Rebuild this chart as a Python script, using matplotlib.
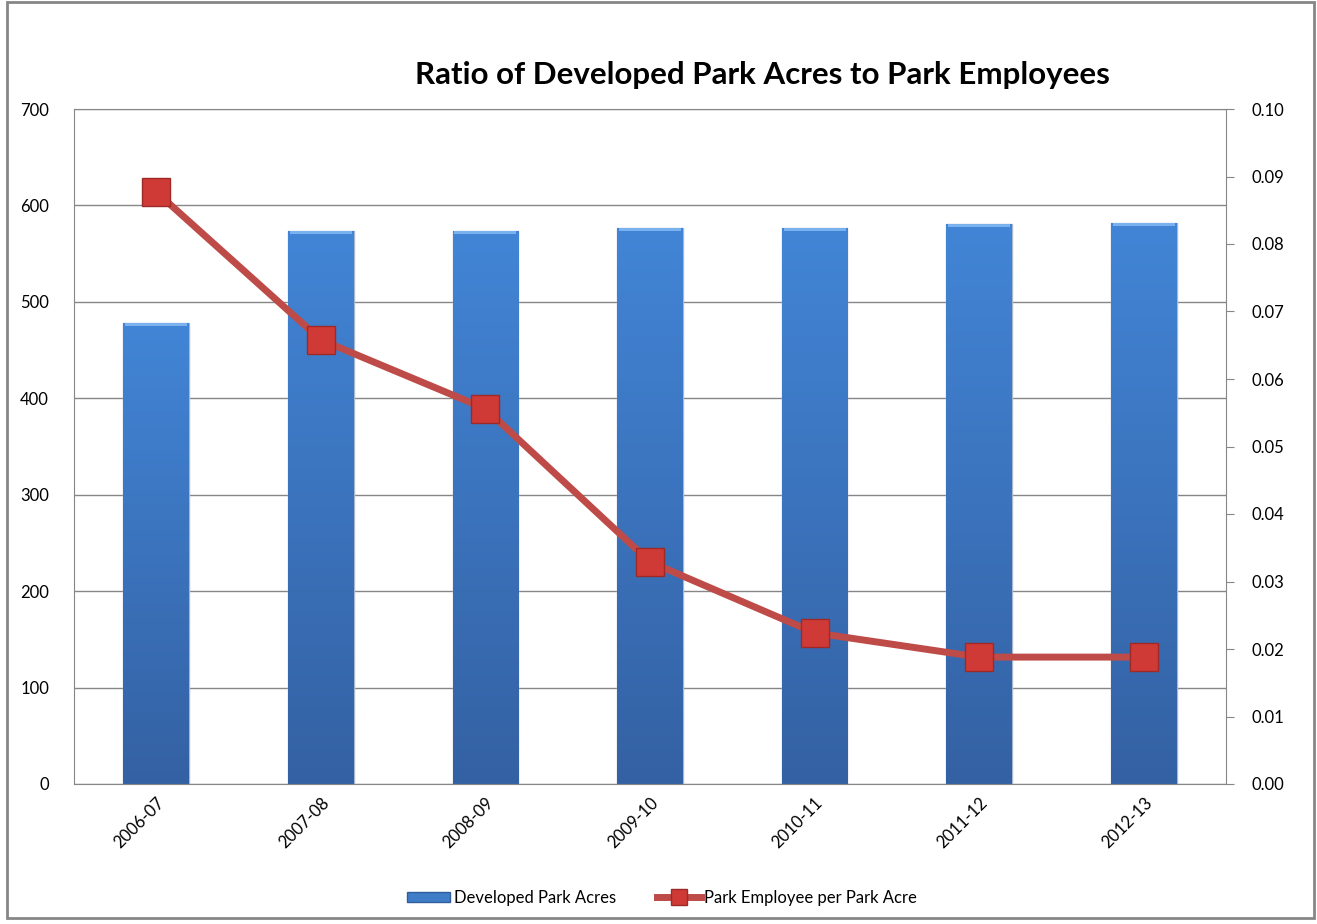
import matplotlib
matplotlib.use("Agg")
import matplotlib.pyplot as plt
import numpy as np
from matplotlib.patches import Rectangle
from matplotlib.lines import Line2D
from matplotlib.colors import LinearSegmentedColormap

categories = ["2006-07", "2007-08", "2008-09", "2009-10", "2010-11", "2011-12", "2012-13"]
acres = [478, 574, 574, 577, 577, 581, 582]
ratio = [0.0877, 0.0658, 0.0556, 0.0329, 0.0224, 0.0188, 0.0188]
left_ticks = [0, 100, 200, 300, 400, 500, 600, 700]
right_ticks = [0.00, 0.01, 0.02, 0.03, 0.04, 0.05, 0.06, 0.07, 0.08, 0.09, 0.10]

plt.rcParams['font.family'] = ['Lato', 'DejaVu Sans']

fig = plt.figure(figsize=(13.17, 9.24), dpi=100)
# outer border
fig.patches.append(Rectangle((7/1317, 6/924), 1307/1317, 916/924, transform=fig.transFigure,
                             fill=False, edgecolor='#868686', linewidth=2.0, zorder=0))

ax = fig.add_axes([74/1317, 140/924, 1152/1317, 675/924])
x = np.arange(len(categories))
bars = ax.bar(x, acres, width=0.40, color='#3F7DC8', edgecolor='#A9B8CC', linewidth=1.0, zorder=2)

# gradient fill for bars
grad = np.linspace(0, 1, 256).reshape(-1, 1)
cmap = LinearSegmentedColormap.from_list('g', ['#3461A3', '#4285D6'])
for b in bars:
    x0, y0, w, h = b.get_x(), b.get_y(), b.get_width(), b.get_height()
    im = ax.imshow(grad, extent=[x0, x0 + w, y0, y0 + h], origin='lower', cmap=cmap,
                   aspect='auto', zorder=2.1)
    im.set_clip_path(b)
    ax.add_patch(Rectangle((x0 + 0.012, y0 + h - 3.5), w - 0.024, 3.5, facecolor='#7AB2F0',
                           edgecolor='none', zorder=2.2))

ax.set_xlim(-0.5, len(categories) - 0.5)
ax.set_ylim(0, 700)
ax.set_yticks(left_ticks)
ax.yaxis.grid(True, color='#868686', linewidth=1.0, zorder=0)
ax.set_axisbelow(True)
ax.tick_params(axis='y', length=0, labelsize=12, pad=18)
ax.tick_params(axis='x', length=0, labelsize=12, pad=8)
ax.set_xticks(x)
ax.set_xticklabels(categories, rotation=45, ha='right', rotation_mode='anchor')
for s in ['left', 'top', 'bottom']:
    ax.spines[s].set_color('#868686')
ax.spines['right'].set_visible(False)

ax2 = ax.twinx()
ax2.set_ylim(0, 0.10)
ax2.set_yticks(right_ticks)
ax2.set_yticklabels([f"{t:.2f}" for t in right_ticks])
ax2.tick_params(axis='y', direction='out', length=6, color='#868686', labelsize=12, pad=12)
for s in ['left', 'top', 'bottom']:
    ax2.spines[s].set_visible(False)
ax2.spines['right'].set_color('#868686')
ax2.plot(x, ratio, color='#BE4B48', linewidth=5, marker='s', markersize=20,
         markerfacecolor='#D03A36', markeredgecolor='#9E2A27', markeredgewidth=1.0, zorder=3)

fig.text(762/1317, 1 - 75/924, "Ratio of Developed Park Acres to Park Employees",
         ha='center', va='center', fontsize=22.5, fontweight='bold')

h1 = Rectangle((0, 0), 1, 1, facecolor='#3F7DC8', edgecolor='#2F5E9A')
h2 = Line2D([0], [0], color='#BE4B48', linewidth=5, marker='s', markersize=11,
            markerfacecolor='#D03A36', markeredgecolor='#9E2A27')
fig.legend([h1, h2], ["Developed Park Acres", "Park Employee per Park Acre"],
           loc='center', bbox_to_anchor=(662/1317, 1 - 898/924), ncol=2, frameon=False,
           fontsize=12, handlelength=2.6, handleheight=0.6, columnspacing=2.5, handletextpad=0.2)

fig.savefig("out.png", dpi=100)
